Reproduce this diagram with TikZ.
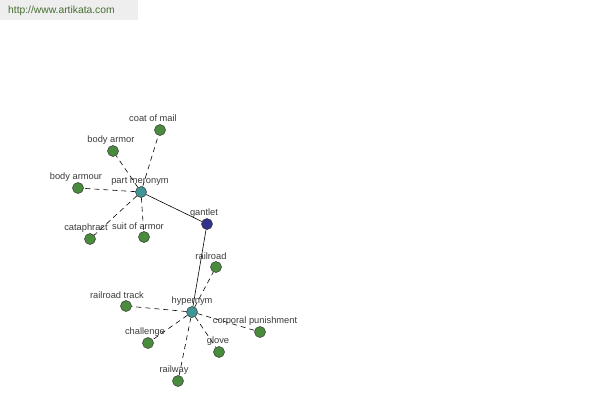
\documentclass[tikz,border=0pt]{standalone}
\usepackage{fontspec}
\setmainfont{Liberation Sans}
\definecolor{leafgreen}{RGB}{74,140,62}
\definecolor{hubteal}{RGB}{64,150,150}
\definecolor{hubblue}{RGB}{50,50,140}
\definecolor{labgray}{RGB}{60,60,60}
\definecolor{urlgreen}{RGB}{70,110,50}
\definecolor{urlbg}{RGB}{238,238,238}
\begin{document}
\begin{tikzpicture}[x=1pt,y=-1pt,
  dot/.style={circle,draw=black!80,line width=0.5pt,minimum size=11pt,inner sep=0pt},
  leaf/.style={dot,fill=leafgreen},
  hub/.style={dot,fill=hubteal},
  ghub/.style={dot,fill=hubblue},
  lab/.style={font=\fontsize{9.3}{10}\selectfont,text=labgray,inner sep=0pt},
  rel/.style={line width=0.6pt,black,dash pattern=on 5pt off 4pt},
  main/.style={line width=0.6pt,black}]
\useasboundingbox (0,0) rectangle (600,400);
\fill[white] (0,0) rectangle (600,400);
\node[fill=urlbg,minimum width=138pt,minimum height=20pt,inner sep=0pt,anchor=north west] (urlbox) at (0,0) {};
\node[font=\fontsize{10.3}{11}\selectfont,text=urlgreen,anchor=west,inner sep=0pt] (url) at (8,11) {http://www.artikata.com};

% nodes
\node[hub] (pm) at (141,192) {};
\node[ghub] (g) at (207,224) {};
\node[hub] (hy) at (192,312) {};
\node[leaf] (cm) at (160,130) {};
\node[leaf] (ba) at (113,151) {};
\node[leaf] (bu) at (78,188) {};
\node[leaf] (ca) at (90,239) {};
\node[leaf] (sa) at (144,237) {};
\node[leaf] (rr) at (216,267) {};
\node[leaf] (rt) at (126,306) {};
\node[leaf] (ch) at (148,343) {};
\node[leaf] (rw) at (178,381) {};
\node[leaf] (gl) at (219,352) {};
\node[leaf] (cp) at (260,332) {};

% edges
\draw[main] (pm) -- (g);
\draw[main] (g) -- (hy);
\foreach \n in {cm,ba,bu,ca,sa} \draw[rel] (pm) -- (\n);
\foreach \n in {rr,rt,ch,rw,gl,cp} \draw[rel] (hy) -- (\n);

% labels
\node[lab] (lpm) at (140,181) {part meronym};
\node[lab] (lg) at (204,213) {gantlet};
\node[lab] (lhy) at (192,301) {hypernym};
\node[lab] (lcm) at (153,118) {coat of mail};
\node[lab] (lba) at (111,140) {body armor};
\node[lab] (lbu) at (76,177) {body armour};
\node[lab] (lca) at (86,228) {cataphract};
\node[lab] (lsa) at (138,226) {suit of armor};
\node[lab] (lrr) at (211,256) {railroad};
\node[lab] (lrt) at (117,295) {railroad track};
\node[lab] (lch) at (145,332) {challenge};
\node[lab] (lrw) at (174,370) {railway};
\node[lab] (lgl) at (218,341) {glove};
\node[lab] (lcp) at (255,321) {corporal punishment};
\end{tikzpicture}
\end{document}
